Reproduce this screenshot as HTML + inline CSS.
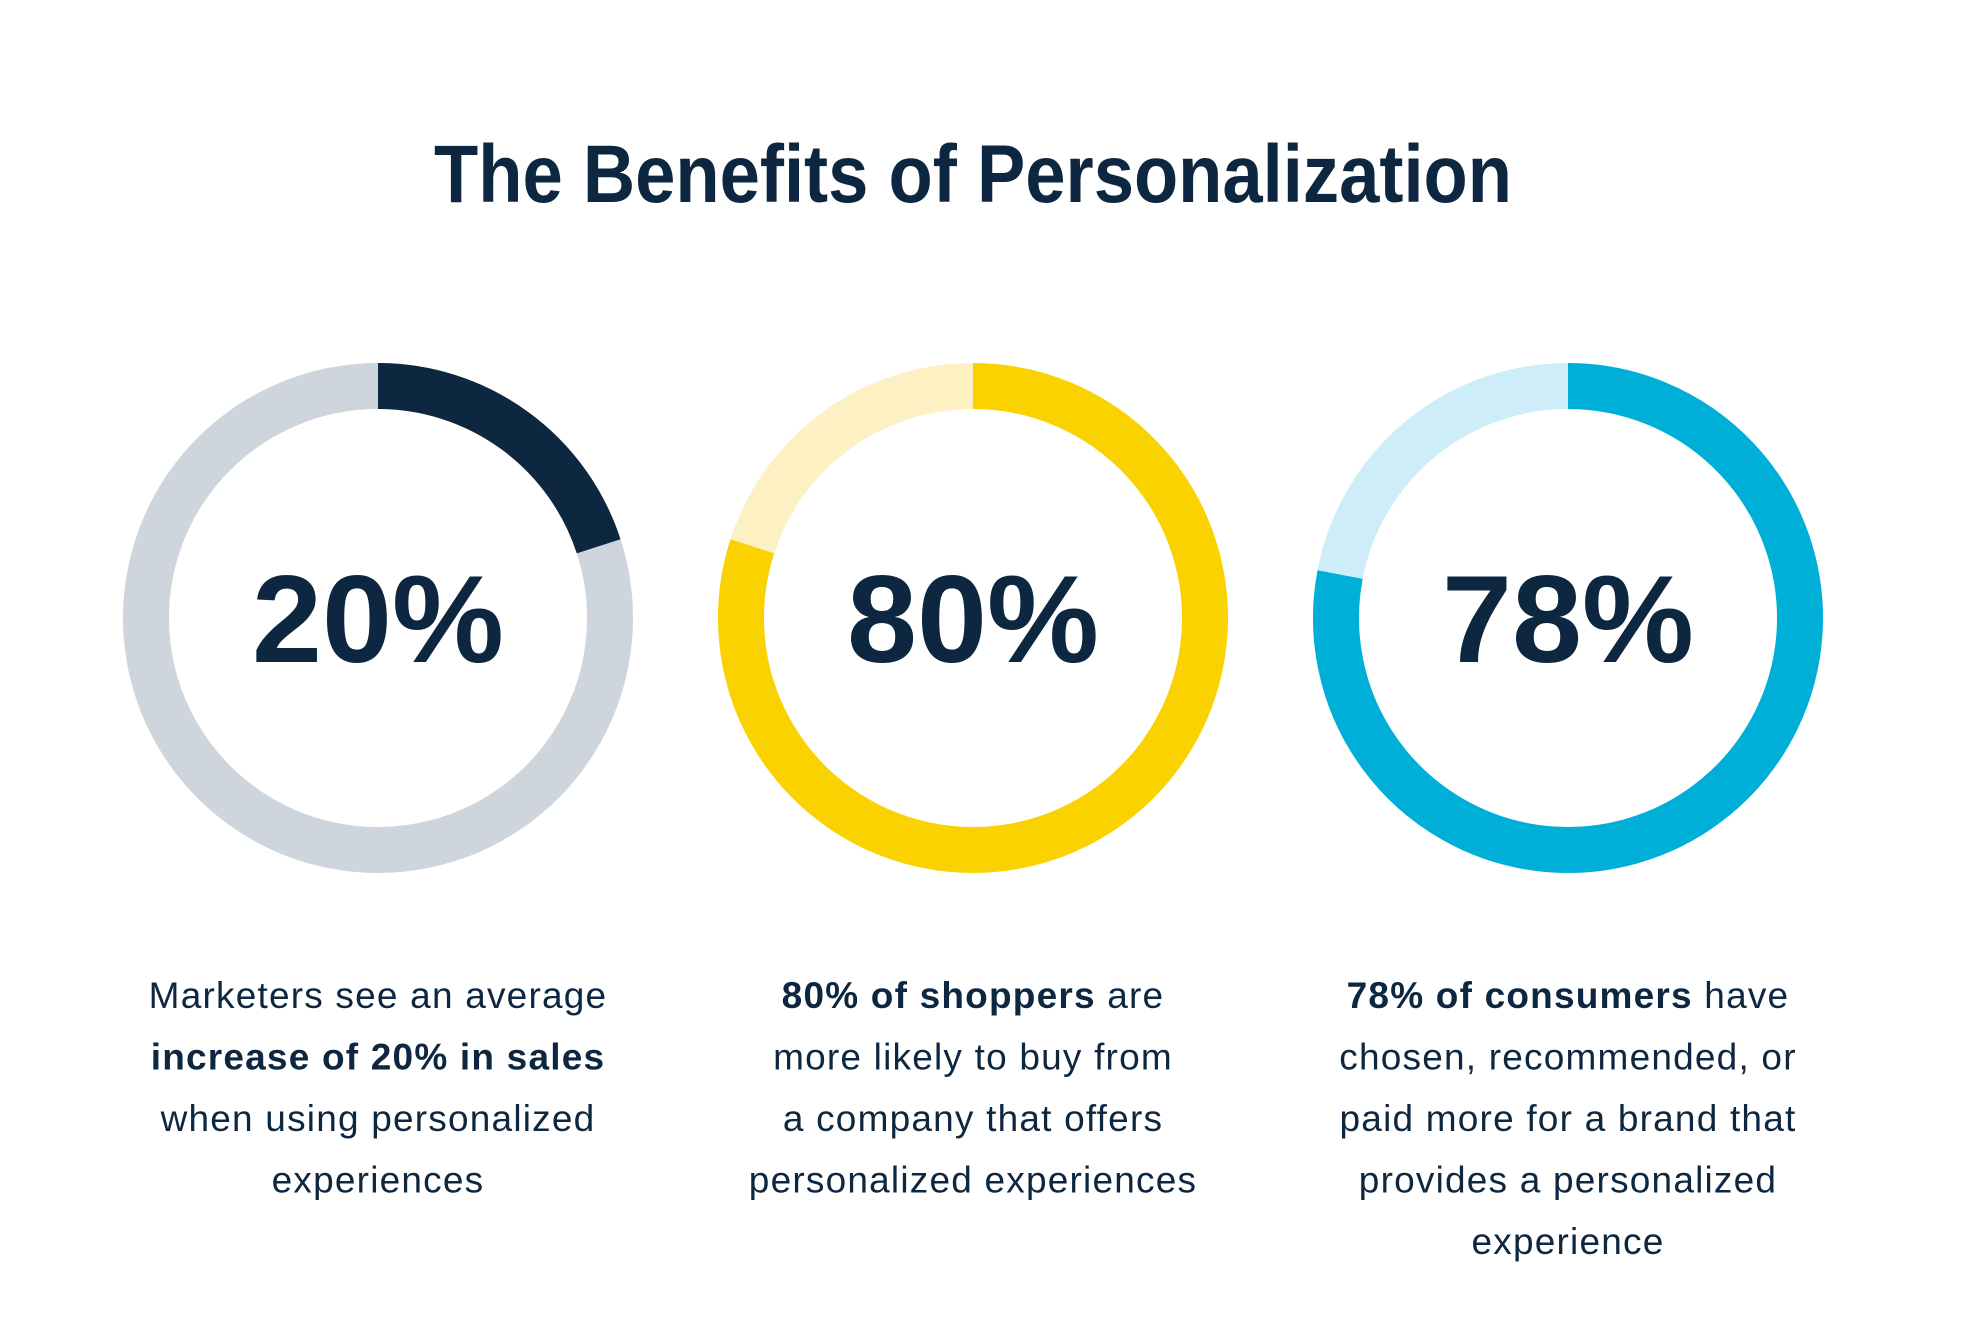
<!DOCTYPE html>
<html><head><meta charset="utf-8">
<style>
html,body{margin:0;padding:0;background:#fff;}
svg{display:block;font-family:"Liberation Sans",sans-serif;}
</style></head>
<body>
<svg id="chart" width="1964" height="1326" viewBox="0 0 1964 1326">
<text x="973" y="202" text-anchor="middle" font-size="82" font-weight="bold" fill="#0d2740" textLength="1078" lengthAdjust="spacingAndGlyphs">The Benefits of Personalization</text>
</svg>
<script>
const categories = ["sales-increase", "shoppers", "consumers"];
const values = [20, 80, 78];
const valueLabels = ["20%", "80%", "78%"];
const fgColors = ["#0d2740", "#fad200", "#00afd8"];
const bgColors = ["#cfd5dc", "#fdf1c4", "#cdeef8"];
const captions = [
  [["Marketers see an average", ""], ["", "increase of 20% in sales"], ["when using personalized", ""], ["experiences", ""]],
  [["", "80% of shoppers", " are"], ["more likely to buy from"], ["a company that offers"], ["personalized experiences"]],
  [["", "78% of consumers", " have"], ["chosen, recommended, or"], ["paid more for a brand that"], ["provides a personalized"], ["experience"]]
];
const NS = "http://www.w3.org/2000/svg";
const svg = document.getElementById("chart");
const cxs = [378, 973, 1568], cy = 618, R = 232, SW = 46;
function angle(v){ return v/100*2*Math.PI; }
function pt(a){ return [Math.sin(a)*R, -Math.cos(a)*R]; }
function arcPath(cx, v0, v1){
  const a0 = angle(v0), a1 = angle(v1);
  const p0 = pt(a0), p1 = pt(a1);
  const large = (a1 - a0) > Math.PI ? 1 : 0;
  return `M${cx+p0[0]},${cy+p0[1]} A${R},${R} 0 ${large} 1 ${cx+p1[0]},${cy+p1[1]}`;
}
values.forEach((v, i) => {
  const cx = cxs[i];
  const g = document.createElementNS(NS, "g");
  
  
  svg.appendChild(g);
  const bg = document.createElementNS(NS, "path");
  bg.setAttribute("d", arcPath(cx, v, 100));
  bg.setAttribute("fill", "none");
  bg.setAttribute("stroke", bgColors[i]);
  bg.setAttribute("stroke-width", SW);
  
  
  g.appendChild(bg);
  const fg = document.createElementNS(NS, "path");
  fg.setAttribute("d", arcPath(cx, 0, v));
  fg.setAttribute("fill", "none");
  fg.setAttribute("stroke", fgColors[i]);
  fg.setAttribute("stroke-width", SW);
  
  
  g.appendChild(fg);
  const t = document.createElementNS(NS, "text");
  t.setAttribute("x", cx);
  t.setAttribute("y", cy + 44);
  t.setAttribute("text-anchor", "middle");
  t.setAttribute("font-size", "124");
  t.setAttribute("font-weight", "bold");
  t.setAttribute("fill", "#0d2740");
  t.setAttribute("textLength", "252");
  t.setAttribute("lengthAdjust", "spacingAndGlyphs");
  t.textContent = valueLabels[i];
  
  
  g.appendChild(t);
  captions[i].forEach((line, j) => {
    const tx = document.createElementNS(NS, "text");
    tx.setAttribute("x", cx);
    tx.setAttribute("y", 1008 + j * 61.5);
    tx.setAttribute("text-anchor", "middle");
    tx.setAttribute("font-size", "37");
    tx.setAttribute("letter-spacing", "1.2");
    tx.setAttribute("fill", "#0d2740");
    
    
    line.forEach((seg, k) => {
      if (!seg) return;
      const ts = document.createElementNS(NS, "tspan");
      ts.textContent = seg;
      if (k === 1) ts.setAttribute("font-weight", "bold");
      tx.appendChild(ts);
    });
    svg.appendChild(tx);
  });
});
</script>
</body></html>
